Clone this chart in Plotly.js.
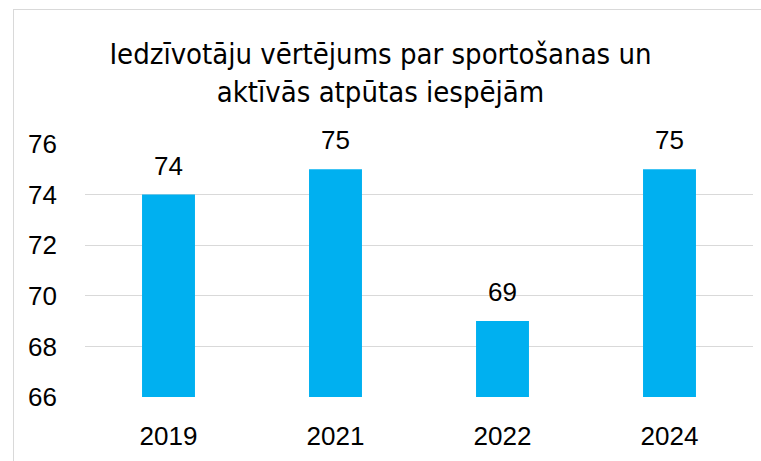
<!DOCTYPE html>
<html>
<head>
<meta charset="utf-8">
<script src="https://cdn.plot.ly/plotly-3.0.1.min.js"></script>
<style>
html,body{margin:0;padding:0;background:#fff;}
#frame{position:absolute;left:13px;top:9px;width:800px;height:500px;border:1px solid #d9d9d9;box-sizing:border-box;}
#chart{position:absolute;left:0;top:0;width:761px;height:461px;}
</style>
</head>
<body>
<div id="frame"></div>
<div id="chart"></div>
<script>
const years = ['2019', '2021', '2022', '2024'];
const scores = [74, 75, 69, 75];
const yTicks = [66, 68, 70, 72, 74, 76];
const titleText = 'Iedzīvotāju vērtējums par sportošanas un<br>aktīvās atpūtas iespējām';

const trace = {
  type: 'bar',
  x: years,
  y: scores,
  marker: {color: '#00b0f0'},
  hoverinfo: 'x+y'
};

const labelFont = {family: 'Liberation Sans, Arial, sans-serif', size: 26, color: '#000'};

const annotations = years.map((yr, i) => ({
  x: i, y: scores[i], xref: 'x', yref: 'y',
  text: String(scores[i]), showarrow: false,
  yanchor: 'bottom', yshift: 12,
  font: labelFont
}));

const layout = {
  width: 761, height: 461,
  paper_bgcolor: 'rgba(0,0,0,0)',
  plot_bgcolor: 'rgba(0,0,0,0)',
  margin: {l: 85, r: 8, t: 144, b: 64},
  bargap: 0.683,
  showlegend: false,
  title: {
    text: titleText,
    x: 0.5, xanchor: 'center',
    y: 1 - 64 / 461, yanchor: 'middle',
    font: {family: 'DejaVu Sans Condensed, sans-serif', stretch: 'condensed', size: 29, color: '#000'}
  },
  xaxis: {
    type: 'category',
    range: [-0.5, years.length - 0.5],
    showgrid: false, zeroline: false, showline: false,
    ticks: '',
    ticklabelstandoff: 21,
    tickfont: labelFont
  },
  yaxis: {
    range: [66, 76],
    tickvals: yTicks,
    ticktext: yTicks.map(String),
    showgrid: true, gridcolor: '#d9d9d9', gridwidth: 1.3,
    zeroline: false, showline: false,
    ticks: '',
    ticklabelstandoff: 27,
    tickfont: labelFont
  },
  annotations: annotations
};

Plotly.newPlot('chart', [trace], layout, {displayModeBar: false, staticPlot: true});
</script>
</body>
</html>
